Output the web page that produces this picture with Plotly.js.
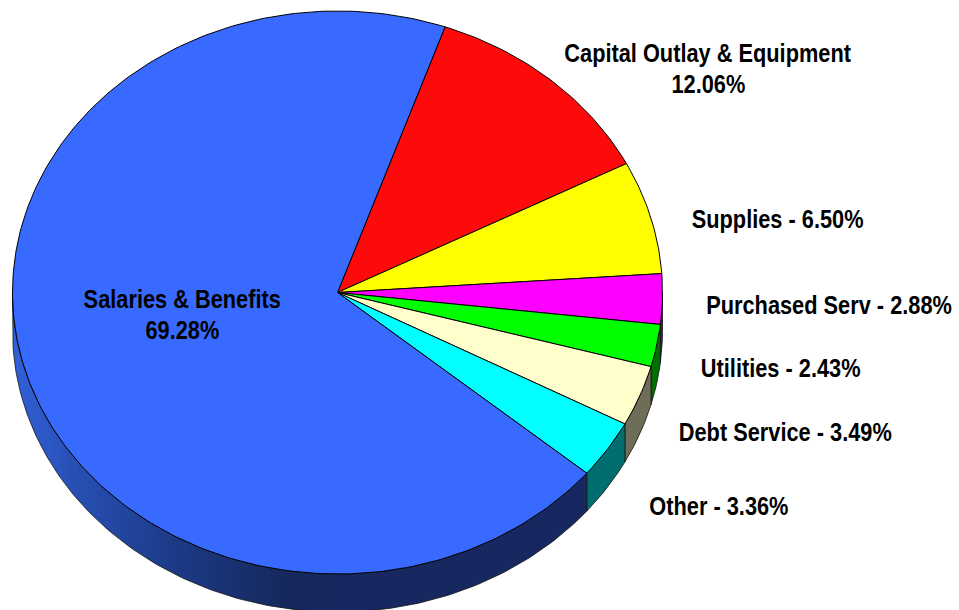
<!DOCTYPE html>
<html>
<head>
<meta charset="utf-8">
<script src="https://cdn.plot.ly/plotly-3.0.1.min.js"></script>
<style>html,body{margin:0;padding:0;background:#fff}#chart{width:959px;height:610px}</style>
</head>
<body>
<div id="chart"></div>
<script>
// Budget shares, clockwise from the first slice after the largest one
const categories = ["Capital Outlay & Equipment", "Supplies", "Purchased Serv", "Utilities", "Debt Service", "Other", "Salaries & Benefits"];
const shares = [12.06, 6.50, 2.88, 2.43, 3.49, 3.36, 69.28];
const topColors = ["#ff0a0a", "#ffff00", "#ff00ff", "#00ff00", "#ffffcc", "#00ffff", "#386aff"];
const wallColors = ["#700404", "#707000", "#6e006e", "#006e00", "#6e6e58", "#006e6e", "#16285f"];
const firstSliceStart = 5.37;   // percent of a turn, clockwise from twelve o'clock
const wallDepth = 0.135;        // extrusion of the disc, in radius units of y
const labelCondense = 0.871;    // horizontal squeeze of the bold labels
const W = 959, H = 610, cx = 337.5, cy = 292.5, rx = 325, ry = 281.5;

const rad = p => p / 100 * 2 * Math.PI;
function arc(p0, p1, dy) {
  const n = Math.max(2, Math.ceil((p1 - p0) * 4));
  const xs = [], ys = [];
  for (let i = 0; i <= n; i++) {
    const a = rad(p0 + (p1 - p0) * i / n);
    xs.push(Math.sin(a));
    ys.push(Math.cos(a) - dy);
  }
  return [xs, ys];
}

const wallTraces = [], topTraces = [];
let start = firstSliceStart;
shares.forEach((s, i) => {
  const end = start + s;
  // the side wall only shows along the front half of the disc
  const w0 = Math.max(start, 25), w1 = Math.min(end, 75);
  if (w1 > w0) {
    const [ux, uy] = arc(w0, w1, 0);
    const [lx, ly] = arc(w0, w1, wallDepth);
    const t = {
      type: "scatter", mode: "lines", hoverinfo: "skip", showlegend: false,
      x: ux.concat(lx.reverse(), [ux[0]]), y: uy.concat(ly.reverse(), [uy[0]]),
      fill: "toself", fillcolor: wallColors[i],
      line: {color: "#111111", width: 0.8}
    };
    if (i === shares.length - 1) {
      t.fillgradient = {
        type: "horizontal", start: -1, stop: 0.1,
        colorscale: [[0, "#3160d8"], [0.18, "#274fb4"], [0.45, "#1c3a86"], [0.75, "#16295f"], [1, wallColors[i]]]
      };
    }
    wallTraces.push(t);
  }
  const [ax, ay] = arc(start, end, 0);
  topTraces.push({
    type: "scatter", mode: "lines", name: categories[i], hoverinfo: "name", showlegend: false,
    x: [0].concat(ax, [0]), y: [0].concat(ay, [0]),
    fill: "toself", fillcolor: topColors[i],
    line: {color: "#000000", width: 1}
  });
  start = end;
});

const pct = i => shares[i].toFixed(2) + "%";
const labelFont = {family: "Liberation Sans, Arial, sans-serif", size: 25, color: "#000000"};
const label = (px, py, text) => ({
  xref: "paper", yref: "paper", x: px / W, y: 1 - py / H, xanchor: "center", yanchor: "middle",
  showarrow: false, text: "<b>" + text + "</b>", font: labelFont, align: "center"
});
const annotations = [
  label(708, 53, categories[0]), label(708, 84, pct(0)),
  label(777, 219, categories[1] + " - " + pct(1)),
  label(829, 305, categories[2] + " - " + pct(2)),
  label(780, 368, categories[3] + " - " + pct(3)),
  label(785, 432, categories[4] + " - " + pct(4)),
  label(719, 506, categories[5] + " - " + pct(5)),
  label(182, 299, categories[6]), label(182, 330, pct(6))
];

const layout = {
  width: W, height: H, margin: {l: 0, r: 0, t: 0, b: 0},
  paper_bgcolor: "#ffffff", plot_bgcolor: "#ffffff", showlegend: false, annotations,
  xaxis: {visible: false, range: [-cx / rx, (W - cx) / rx], fixedrange: true},
  yaxis: {visible: false, range: [-(H - cy) / ry, cy / ry], fixedrange: true}
};
Plotly.newPlot("chart", wallTraces.concat(topTraces), layout, {displayModeBar: false, staticPlot: true}).then(gd => {
  // condense each label about its own centre
  gd.querySelectorAll(".annotation-text").forEach(el => {
    const b = el.getBBox(), mid = b.x + b.width / 2;
    el.setAttribute("transform", `translate(${mid},0) scale(${labelCondense},1) translate(${-mid},0)`);
  });
});
</script>
</body>
</html>
